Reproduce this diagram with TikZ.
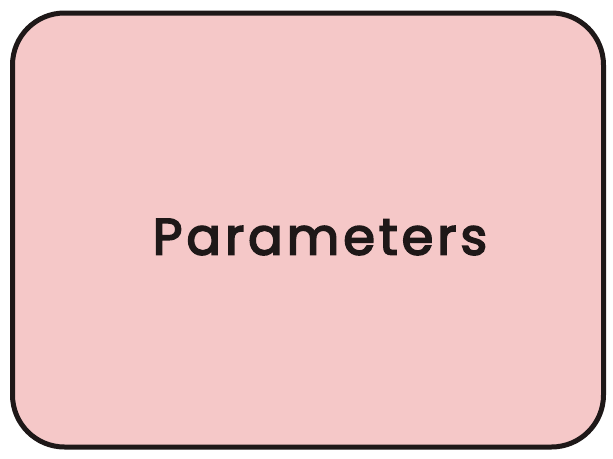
\documentclass[tikz,border=0pt]{standalone}
\usepackage{fontspec}
\newfontfamily\handfont[FakeBold=3.5,LetterSpace=8]{Poppins}
\definecolor{boxpink}{RGB}{245,200,200}
\definecolor{inkblack}{RGB}{30,24,24}
\begin{document}
\begin{tikzpicture}[x=1pt,y=-1pt,
  panel/.style={draw=inkblack,fill=boxpink,line width=5pt,rounded corners=52pt,
    minimum width=591pt,minimum height=434pt,inner sep=0pt},
  tag/.style={text=inkblack,font=\handfont\fontsize{51}{55}\selectfont,inner sep=0pt}]
\useasboundingbox (0,0) rectangle (613,458);
\node[panel] (box) at (308,230) {};
\node[tag] (params) at (320,237) {Parameters};
\end{tikzpicture}
\end{document}
